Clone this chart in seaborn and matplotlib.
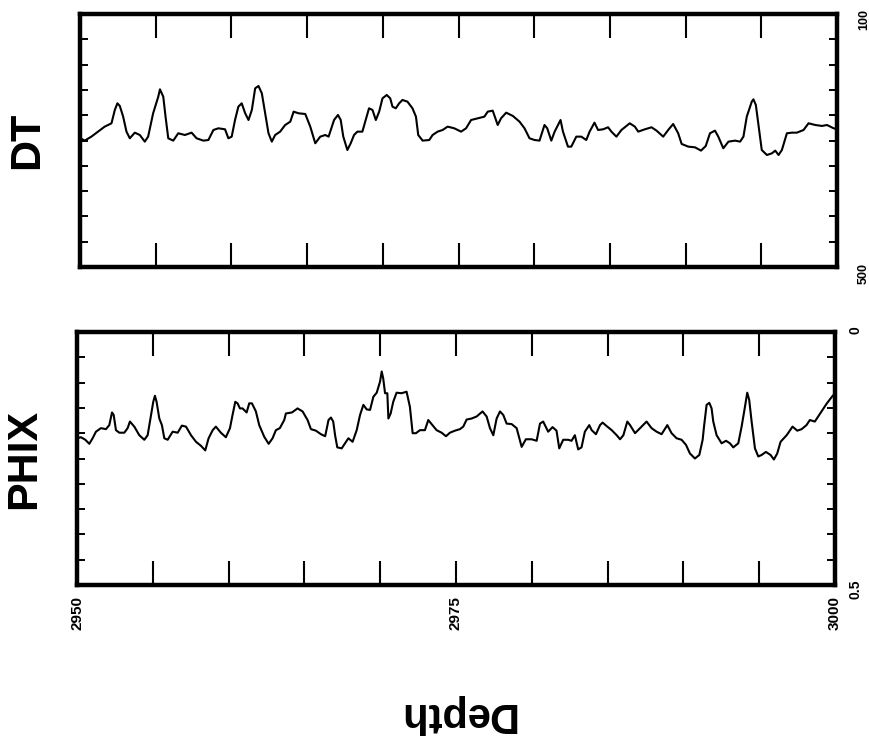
import numpy as np
import pandas as pd
import matplotlib
matplotlib.use("Agg")
import matplotlib.pyplot as plt
import seaborn as sns

# ---------------- data ----------------
dt_depth = [2950.00, 2950.31, 2950.75, 2951.19, 2951.63, 2952.08, 2952.30, 2952.47, 2952.63, 2952.85,
            2953.07, 2953.29, 2953.62, 2953.95, 2954.28, 2954.50, 2954.83, 2955.17, 2955.28, 2955.50,
            2955.65, 2955.83, 2956.16, 2956.49, 2956.93, 2957.37, 2957.70, 2958.15, 2958.48, 2958.81,
            2959.14, 2959.58, 2959.80, 2960.02, 2960.24, 2960.46, 2960.68, 2960.91, 2961.13, 2961.35,
            2961.57, 2961.79, 2962.01, 2962.23, 2962.45, 2962.67, 2962.89, 2963.22, 2963.55, 2963.89,
            2964.11, 2964.44, 2964.88, 2965.21, 2965.54, 2965.87, 2966.20, 2966.42, 2966.78, 2967.04,
            2967.22, 2967.39, 2967.66, 2967.88, 2968.10, 2968.32, 2968.65, 2968.87, 2969.09, 2969.32,
            2969.54, 2969.76, 2969.98, 2970.26, 2970.49, 2970.64, 2970.86, 2971.08, 2971.30, 2971.63,
            2971.96, 2972.19, 2972.34, 2972.63, 2973.07, 2973.29, 2973.62, 2973.95, 2974.28, 2974.72,
            2975.17, 2975.50, 2975.83, 2976.27, 2976.71, 2976.93, 2977.26, 2977.48, 2977.59, 2977.81,
            2978.15, 2978.59, 2979.03, 2979.36, 2979.69, 2980.02, 2980.35, 2980.68, 2980.86, 2981.13,
            2981.35, 2981.74, 2981.90, 2982.23, 2982.45, 2982.78, 2983.11, 2983.44, 2983.66, 2983.98,
            2984.22, 2984.55, 2984.88, 2985.10, 2985.43, 2985.76, 2986.31, 2986.65, 2986.87, 2987.31,
            2987.75, 2988.08, 2988.52, 2988.85, 2989.18, 2989.51, 2989.74, 2990.18, 2990.62, 2991.02,
            2991.33, 2991.61, 2991.94, 2992.16, 2992.49, 2992.83, 2993.27, 2993.60, 2993.82, 2994.04,
            2994.37, 2994.48, 2994.64, 2994.86, 2995.03, 2995.37, 2995.70, 2995.92, 2996.14, 2996.36,
            2996.69, 2997.02, 2997.35, 2997.79, 2998.12, 2998.57, 2999.01, 2999.34, 2999.78, 3000.00]
dt_value = [296.0, 300.2, 293.9, 286.0, 278.1, 272.8, 251.7, 241.2, 245.4, 262.3,
            286.0, 296.5, 287.6, 291.3, 301.8, 293.9, 257.0, 230.7, 219.1, 230.7,
            262.3, 296.5, 300.2, 288.6, 291.3, 287.6, 296.5, 300.2, 299.2, 283.4,
            280.7, 282.3, 296.5, 293.9, 267.6, 246.5, 241.2, 257.0, 267.6, 251.7,
            217.5, 213.8, 225.4, 257.0, 288.6, 301.8, 291.3, 286.0, 275.5, 270.2,
            254.4, 257.0, 258.1, 278.1, 304.4, 293.9, 291.3, 293.9, 267.6, 259.6,
            267.6, 293.9, 315.0, 304.4, 291.3, 286.0, 286.0, 267.6, 249.1, 251.7,
            267.6, 254.4, 233.3, 228.0, 233.3, 246.5, 249.1, 241.2, 235.9, 238.6,
            249.1, 262.3, 291.3, 300.2, 299.2, 291.3, 286.0, 283.4, 278.1, 280.7,
            286.0, 280.7, 267.6, 264.9, 262.3, 254.4, 252.8, 267.6, 275.5, 264.9,
            256.0, 261.2, 270.2, 280.7, 296.5, 299.2, 300.2, 275.5, 280.7, 300.2,
            286.0, 267.6, 286.0, 309.7, 309.7, 293.9, 293.9, 299.2, 286.0, 271.8,
            283.4, 282.3, 279.1, 286.0, 293.9, 283.4, 272.8, 278.1, 286.0, 282.3,
            279.1, 284.4, 293.9, 283.4, 273.9, 288.6, 305.5, 309.7, 310.8, 316.0,
            308.7, 288.6, 284.4, 293.9, 312.3, 301.8, 300.2, 301.8, 293.9, 262.3,
            238.6, 234.9, 243.8, 283.4, 315.0, 322.9, 320.3, 316.0, 322.9, 315.0,
            288.6, 287.6, 287.6, 283.4, 272.8, 275.5, 277.0, 275.5, 280.7, 282.0]

phix_depth = [2950.00, 2950.26, 2950.55, 2950.81, 2951.03, 2951.25, 2951.58, 2951.91, 2952.13, 2952.31,
              2952.42, 2952.57, 2952.79, 2953.12, 2953.34, 2953.49, 2953.78, 2954.11, 2954.44, 2954.66,
              2954.88, 2955.03, 2955.14, 2955.25, 2955.43, 2955.60, 2955.76, 2955.98, 2956.31, 2956.64,
              2956.92, 2957.19, 2957.52, 2957.85, 2958.18, 2958.46, 2958.68, 2958.95, 2959.16, 2959.49,
              2959.82, 2960.09, 2960.26, 2960.44, 2960.59, 2960.75, 2960.92, 2961.19, 2961.36, 2961.54,
              2961.80, 2962.02, 2962.35, 2962.64, 2962.90, 2963.12, 2963.38, 2963.67, 2963.78, 2964.18,
              2964.55, 2964.88, 2965.21, 2965.43, 2965.76, 2966.09, 2966.37, 2966.59, 2966.75, 2966.90,
              2967.03, 2967.17, 2967.46, 2967.68, 2967.90, 2968.18, 2968.45, 2968.67, 2968.89, 2969.11,
              2969.33, 2969.55, 2969.77, 2969.99, 2970.10, 2970.20, 2970.32, 2970.47, 2970.54, 2970.69,
              2970.86, 2971.08, 2971.41, 2971.74, 2971.96, 2972.14, 2972.36, 2972.62, 2972.95, 2973.17,
              2973.39, 2973.72, 2974.05, 2974.34, 2974.60, 2974.93, 2975.26, 2975.48, 2975.70, 2976.03,
              2976.36, 2976.75, 2977.02, 2977.24, 2977.46, 2977.68, 2977.90, 2978.12, 2978.34, 2978.67,
              2979.00, 2979.33, 2979.61, 2979.99, 2980.32, 2980.54, 2980.75, 2981.08, 2981.37, 2981.63,
              2981.81, 2982.07, 2982.40, 2982.62, 2982.84, 2983.06, 2983.28, 2983.50, 2983.79, 2983.95,
              2984.23, 2984.50, 2984.67, 2984.94, 2985.27, 2985.60, 2985.82, 2986.04, 2986.30, 2986.48,
              2986.81, 2987.14, 2987.57, 2987.90, 2988.23, 2988.56, 2988.94, 2989.22, 2989.55, 2989.88,
              2990.17, 2990.43, 2990.76, 2991.05, 2991.27, 2991.36, 2991.53, 2991.71, 2991.86, 2991.97,
              2992.19, 2992.52, 2992.81, 2993.07, 2993.29, 2993.62, 2993.84, 2994.06, 2994.21, 2994.34,
              2994.50, 2994.72, 2994.94, 2995.16, 2995.44, 2995.75, 2995.97, 2996.19, 2996.41, 2996.81,
              2997.20, 2997.51, 2997.80, 2998.12, 2998.34, 2998.67, 2998.89, 2999.11, 2999.44, 2999.77,
              3000.00]
phix_value = [0.210, 0.208, 0.213, 0.221, 0.210, 0.197, 0.190, 0.192, 0.184, 0.159,
              0.164, 0.194, 0.199, 0.199, 0.190, 0.177, 0.187, 0.204, 0.213, 0.204,
              0.164, 0.138, 0.126, 0.138, 0.171, 0.184, 0.210, 0.213, 0.197, 0.199,
              0.185, 0.187, 0.204, 0.217, 0.225, 0.234, 0.210, 0.194, 0.187, 0.199,
              0.208, 0.190, 0.164, 0.138, 0.141, 0.151, 0.151, 0.159, 0.141, 0.141,
              0.157, 0.184, 0.207, 0.221, 0.210, 0.194, 0.190, 0.174, 0.161, 0.159,
              0.151, 0.157, 0.174, 0.192, 0.195, 0.202, 0.206, 0.174, 0.169, 0.177,
              0.205, 0.228, 0.230, 0.220, 0.210, 0.217, 0.194, 0.164, 0.144, 0.153,
              0.154, 0.128, 0.120, 0.098, 0.078, 0.092, 0.121, 0.121, 0.171, 0.161,
              0.138, 0.120, 0.121, 0.118, 0.148, 0.200, 0.200, 0.194, 0.194, 0.174,
              0.182, 0.194, 0.199, 0.206, 0.199, 0.195, 0.192, 0.187, 0.173, 0.171,
              0.167, 0.157, 0.167, 0.190, 0.204, 0.171, 0.157, 0.164, 0.181, 0.182,
              0.190, 0.227, 0.212, 0.212, 0.215, 0.181, 0.177, 0.197, 0.188, 0.195,
              0.230, 0.213, 0.213, 0.215, 0.204, 0.232, 0.228, 0.197, 0.184, 0.194,
              0.202, 0.184, 0.179, 0.186, 0.194, 0.204, 0.212, 0.204, 0.177, 0.184,
              0.200, 0.190, 0.177, 0.190, 0.197, 0.202, 0.184, 0.200, 0.210, 0.213,
              0.223, 0.240, 0.250, 0.243, 0.213, 0.187, 0.144, 0.140, 0.151, 0.177,
              0.204, 0.220, 0.215, 0.220, 0.228, 0.220, 0.187, 0.148, 0.120, 0.134,
              0.177, 0.230, 0.246, 0.243, 0.237, 0.243, 0.252, 0.240, 0.217, 0.204,
              0.187, 0.195, 0.192, 0.184, 0.174, 0.177, 0.167, 0.157, 0.142, 0.129,
              0.121]

depth_ticks = [2950, 2955, 2960, 2965, 2970, 2975, 2980, 2985, 2990, 2995, 3000]
depth_labels = ["2950", "", "", "", "", "2975", "", "", "", "", "3000"]
dt_ticks = [100, 140, 180, 220, 260, 300, 340, 380, 420, 460, 500]
dt_labels = ["100", "", "", "", "", "", "", "", "", "", "500"]
phix_ticks = [0.0, 0.05, 0.1, 0.15, 0.2, 0.25, 0.3, 0.35, 0.4, 0.45, 0.5]
phix_labels = ["0", "", "", "", "", "", "", "", "", "", "0.5"]

# ---------------- style ----------------
sns.set_style("white")
plt.rcParams["font.family"] = ["Liberation Sans", "DejaVu Sans"]
plt.rcParams["font.weight"] = "bold"
plt.rcParams["text.color"] = "black"
plt.rcParams["axes.labelcolor"] = "black"
plt.rcParams["xtick.color"] = "black"
plt.rcParams["ytick.color"] = "black"
plt.rcParams["xtick.labelcolor"] = "black"
plt.rcParams["ytick.labelcolor"] = "black"

W, H = 869, 742
fig = plt.figure(figsize=(W / 100, H / 100), dpi=100)
fig.patch.set_facecolor("white")

ax1 = fig.add_axes([80 / W, 1 - 267 / H, 757 / W, 253 / H])
ax2 = fig.add_axes([77 / W, 1 - 585 / H, 758 / W, 253 / H])

df_dt = pd.DataFrame({"Depth": dt_depth, "DT": dt_value})
df_ph = pd.DataFrame({"Depth": phix_depth, "PHIX": phix_value})

sns.lineplot(data=df_dt, x="Depth", y="DT", ax=ax1, color="black", lw=1.5,
             estimator=None, sort=False)
sns.lineplot(data=df_ph, x="Depth", y="PHIX", ax=ax2, color="black", lw=1.5,
             estimator=None, sort=False)

for ax, yt, yl, ylim, rpad, rsize, title in [
        (ax1, dt_ticks, dt_labels, (500, 100), 15, 9, "DT"),
        (ax2, phix_ticks, phix_labels, (0.5, 0.0), 10, 10, "PHIX")]:
    ax.set_xlim(2950, 3000)
    ax.set_ylim(*ylim)
    for s in ax.spines.values():
        s.set_visible(True)
        s.set_linewidth(3.2)
        s.set_color("black")
    ax.set_xticks(depth_ticks)
    ax.set_yticks(yt)
    ax.set_yticklabels(yl, rotation=90, fontsize=rsize, fontweight="bold", color="black")
    ax.tick_params(axis="x", which="major", direction="in", top=True, bottom=True,
                   length=17, width=1.5, color="black")
    ax.tick_params(axis="y", which="major", direction="in", left=True, right=True,
                   labelleft=False, labelright=True, length=6, width=1.4,
                   color="black", pad=rpad)
    ax.set_ylabel(title, fontsize=31, fontweight="bold", rotation=90, labelpad=24,
                  color="black")
    ax.yaxis.set_label_position("left")
    ax.grid(False)

ax1.tick_params(axis="x", labelbottom=False)
ax1.set_xlabel("")
ax2.set_xticklabels(depth_labels, rotation=90, fontsize=11, fontweight="bold", color="black")
ax2.tick_params(axis="x", pad=8)
ax2.set_xlabel("Depth", fontsize=30, fontweight="bold", rotation=180, labelpad=46,
               color="black")

fig.savefig("out.png", dpi=100, facecolor="white")
